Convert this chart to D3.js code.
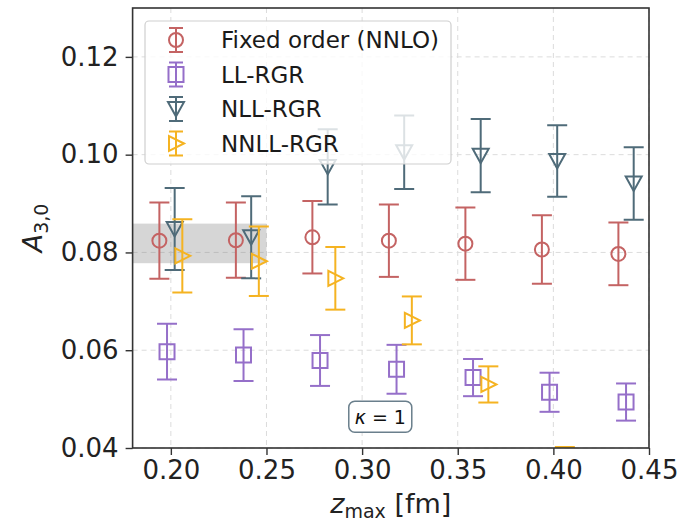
<!DOCTYPE html>
<html><head><meta charset="utf-8">
<script src="https://cdn.jsdelivr.net/npm/d3@7"></script>
<style>
html,body{margin:0;padding:0;background:#fff;}
svg{display:block;font-family:"DejaVu Sans",sans-serif;}
</style></head>
<body><svg id="c" width="686" height="529"></svg>
<script>
// ---- data ----
const zmax = [0.20, 0.24, 0.28, 0.32, 0.36, 0.40, 0.44];
const fixedVal = [0.0824, 0.0825, 0.0831, 0.0824, 0.0818, 0.0806, 0.0797];
const fixedErr = [0.0078, 0.0077, 0.0074, 0.0074, 0.0074, 0.0070, 0.0064];
const llVal = [0.0597, 0.0590, 0.0579, 0.0561, 0.0544, 0.0514, 0.0494];
const llErr = [0.0057, 0.0053, 0.0052, 0.0050, 0.0038, 0.0040, 0.0038];
const nllVal = [0.0848, 0.0831, 0.0975, 0.1005, 0.0998, 0.0987, 0.0941];
const nllErr = [0.0084, 0.0084, 0.0077, 0.0075, 0.0075, 0.0073, 0.0074];
const nnllZ = [0.20, 0.24, 0.28, 0.32, 0.36, 0.40];
const nnllVal = [0.0793, 0.0782, 0.0747, 0.0661, 0.0530, 0.0345];
const nnllErr = [0.0075, 0.0071, 0.0064, 0.0049, 0.0037, 0.0057];
const seriesNames = ["Fixed order (NNLO)", "LL-RGR", "NLL-RGR", "NNLL-RGR"];
const seriesOffsets = [-0.006, -0.002, 0.002, 0.006];
const seriesColors = ["#c46363", "#956fc9", "#4f6b79", "#f5b321"];
const seriesMarkers = ["circle", "square", "tridown", "triright"];
const bandY = [0.0778, 0.0859];
const bandX = [0.17, 0.25];
const xTicks = [0.20, 0.25, 0.30, 0.35, 0.40, 0.45];
const yTicks = [0.04, 0.06, 0.08, 0.10, 0.12];
const xDomain = [0.18, 0.45];
const yDomain = [0.04, 0.13];
const annotation = {x: 0.3095, y: 0.0464};

// ---- layout ----
const L = 132.6, R = 649, T = 8, B = 448;
const svg = d3.select("#c");
const x = d3.scaleLinear().domain(xDomain).range([L, R]);
const y = d3.scaleLinear().domain(yDomain).range([B, T]);

svg.append("defs").append("clipPath").attr("id","clip")
  .append("rect").attr("x",L).attr("y",T).attr("width",R-L).attr("height",B-T);

// grid
const grid = svg.append("g");
grid.selectAll(".gx").data(xTicks).join("line")
  .attr("x1",d=>x(d)).attr("x2",d=>x(d)).attr("y1",T).attr("y2",B)
  .attr("stroke","#dcdcdc").attr("stroke-width",1).attr("stroke-dasharray","5,4");
grid.selectAll(".gy").data(yTicks).join("line")
  .attr("y1",d=>y(d)).attr("y2",d=>y(d)).attr("x1",L).attr("x2",R)
  .attr("stroke","#dcdcdc").attr("stroke-width",1).attr("stroke-dasharray","5,4");

// band
svg.append("rect").attr("clip-path","url(#clip)")
  .attr("x",x(bandX[0])).attr("width",x(bandX[1])-x(bandX[0]))
  .attr("y",y(bandY[1])).attr("height",y(bandY[0])-y(bandY[1]))
  .attr("fill","#808080").attr("opacity",0.32);

function markerPath(type){
  if(type==="circle") return "M7,0A7,7 0 1,1 -7,0A7,7 0 1,1 7,0Z";
  if(type==="square") return "M-7.5,-7.5H7.5V7.5H-7.5Z";
  if(type==="tridown") return "M0,7.5L-8,-7L8,-7Z";
  if(type==="triright") return "M8,0L-7,-7.5L-7,7.5Z";
}

const allSeries = [
  {z: zmax, v: fixedVal, e: fixedErr},
  {z: zmax, v: llVal, e: llErr},
  {z: zmax, v: nllVal, e: nllErr},
  {z: nnllZ, v: nnllVal, e: nnllErr}
];

const data = svg.append("g").attr("clip-path","url(#clip)");
allSeries.forEach((s,i)=>{
  const pts = s.z.map((z,k)=>({x: z+seriesOffsets[i], v: s.v[k], e: s.e[k]}));
  const g = data.append("g").attr("stroke",seriesColors[i]).attr("fill","none").attr("stroke-width",2);
  const cap = 10;
  pts.forEach(p=>{
    const px = x(p.x);
    g.append("line").attr("x1",px).attr("x2",px).attr("y1",y(p.v+p.e)).attr("y2",y(p.v-p.e));
    g.append("line").attr("x1",px-cap).attr("x2",px+cap).attr("y1",y(p.v+p.e)).attr("y2",y(p.v+p.e));
    g.append("line").attr("x1",px-cap).attr("x2",px+cap).attr("y1",y(p.v-p.e)).attr("y2",y(p.v-p.e));
    g.append("path").attr("d",markerPath(seriesMarkers[i])).attr("transform",`translate(${px},${y(p.v)})`);
  });
});

// axes
const ax = svg.append("g").attr("transform",`translate(0,${B})`)
  .call(d3.axisBottom(x).tickValues(xTicks).tickFormat(d3.format(".2f")).tickSize(7).tickPadding(6));
const ay = svg.append("g").attr("transform",`translate(${L},0)`)
  .call(d3.axisLeft(y).tickValues(yTicks).tickFormat(d3.format(".2f")).tickSize(7).tickPadding(7));
[ax,ay].forEach(a=>{
  a.select(".domain").remove();
  a.selectAll("line").attr("stroke","#333").attr("stroke-width",1.4);
  a.selectAll("text").attr("font-size",26).attr("fill","#222").attr("font-family","DejaVu Sans");
});
svg.append("rect").attr("x",L).attr("y",T).attr("width",R-L).attr("height",B-T)
  .attr("fill","none").attr("stroke","#333").attr("stroke-width",1.6);

// axis labels
const xl = svg.append("text").attr("x",(L+R)/2).attr("y",513).attr("text-anchor","middle")
  .attr("font-size",27).attr("fill","#222");
xl.append("tspan").attr("font-style","italic").text("z");
xl.append("tspan").attr("font-size",19).attr("dy",5).text("max");
xl.append("tspan").attr("dy",-5).text(" [fm]");

const yl = svg.append("text").attr("transform",`translate(42,${(T+B)/2}) rotate(-90)`)
  .attr("text-anchor","middle").attr("font-size",27).attr("fill","#222");
yl.append("tspan").attr("font-style","italic").text("A");
yl.append("tspan").attr("font-size",19).attr("dy",6).text("3,0");

// annotation
const ag = svg.append("g").attr("transform",`translate(${x(annotation.x)},${y(annotation.y)})`);
ag.append("rect").attr("x",-31.5).attr("y",-15.5).attr("width",63).attr("height",31).attr("rx",6)
  .attr("fill","#fff").attr("stroke","#6a7f8c").attr("stroke-width",1.5);
const at = ag.append("text").attr("text-anchor","middle").attr("y",7).attr("font-size",19).attr("fill","#111");
at.append("tspan").attr("font-style","italic").text("κ");
at.append("tspan").text(" = 1");

// legend
const lg = svg.append("g");
lg.append("rect").attr("x",145).attr("y",21).attr("width",306).attr("height",143).attr("rx",4)
  .attr("fill","#fff").attr("fill-opacity",0.8).attr("stroke","#cfcfcf").attr("stroke-width",1.2);
seriesNames.forEach((n,i)=>{
  const cy = 40 + i*34.5, cx = 176;
  const g = lg.append("g").attr("stroke",seriesColors[i]).attr("fill","none").attr("stroke-width",2);
  g.append("line").attr("x1",cx).attr("x2",cx).attr("y1",cy-12).attr("y2",cy+12);
  g.append("line").attr("x1",cx-7).attr("x2",cx+7).attr("y1",cy-12).attr("y2",cy-12);
  g.append("line").attr("x1",cx-7).attr("x2",cx+7).attr("y1",cy+12).attr("y2",cy+12);
  g.append("path").attr("d",markerPath(seriesMarkers[i])).attr("transform",`translate(${cx},${cy})`);
  lg.append("text").attr("x",221).attr("y",cy+8).attr("font-size",23).attr("fill","#1a1a1a").text(n);
});
</script></body></html>
